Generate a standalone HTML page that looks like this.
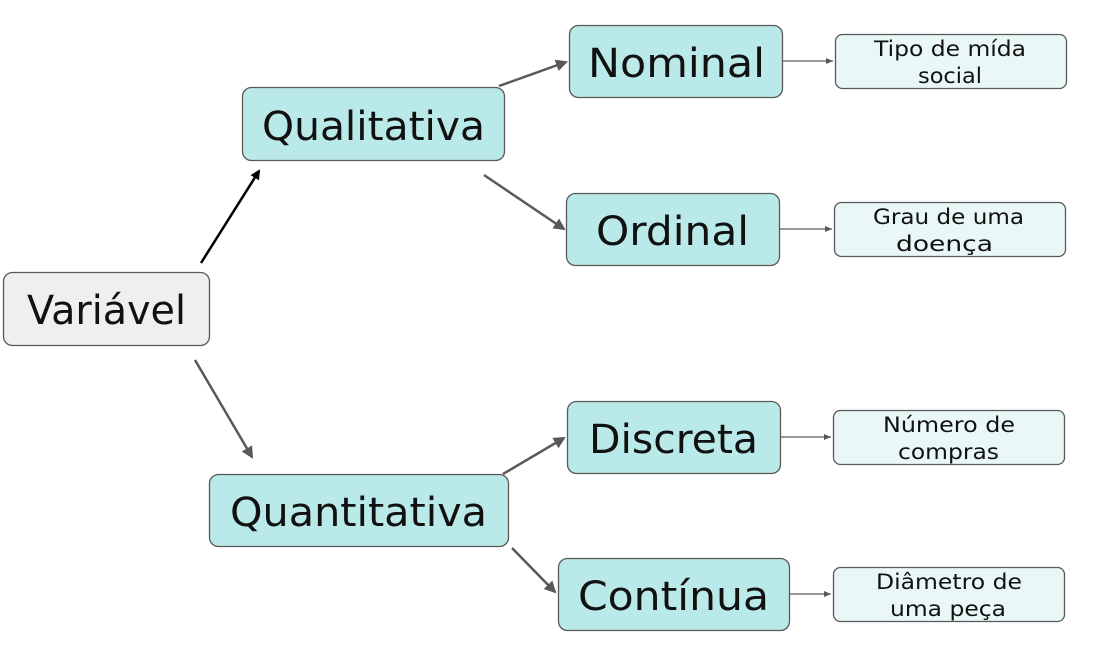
<!DOCTYPE html>
<html><head><meta charset="utf-8"><style>
html,body{margin:0;padding:0;background:#fff;width:1096px;height:660px;overflow:hidden}
text{font-family:"DejaVu Sans","Liberation Sans",sans-serif;fill:#111}
</style></head><body>
<svg width="1096" height="660" viewBox="0 0 1096 660" xmlns="http://www.w3.org/2000/svg">
<defs>
<marker id="ak" markerWidth="10" markerHeight="10" refX="8" refY="5" orient="auto" markerUnits="userSpaceOnUse" viewBox="0 0 10 10"><path d="M0,0 L10,5 L0,10 z" fill="#000"/></marker>
<marker id="ag" markerWidth="12" markerHeight="12" refX="10" refY="6" orient="auto" markerUnits="userSpaceOnUse" viewBox="0 0 12 12"><path d="M0,0 L12,6 L0,12 z" fill="#595959"/></marker>
<marker id="as" markerWidth="7" markerHeight="6" refX="7" refY="3" orient="auto" markerUnits="userSpaceOnUse" viewBox="0 0 7 6"><path d="M0,0 L7,3 L0,6 z" fill="#595959"/></marker>
</defs>
<g stroke="#595959" stroke-width="1.3">
<rect x="3.5" y="272.5" width="206" height="73" rx="9" fill="#efefef"/>
<rect x="242.5" y="87.5" width="262" height="73" rx="9" fill="#b9e9e8"/>
<rect x="209.5" y="474.5" width="299" height="72" rx="9" fill="#b9e9e8"/>
<rect x="569.5" y="25.5" width="213" height="72" rx="9" fill="#b9e9e8"/>
<rect x="566.5" y="193.5" width="213" height="72" rx="9" fill="#b9e9e8"/>
<rect x="567.5" y="401.5" width="213" height="72" rx="9" fill="#b9e9e8"/>
<rect x="558.5" y="558.5" width="231" height="72" rx="9" fill="#b9e9e8"/>
<rect x="835.5" y="34.5" width="231" height="54" rx="7" fill="#e9f7f7"/>
<rect x="834.5" y="202.5" width="231" height="54" rx="7" fill="#e9f7f7"/>
<rect x="833.5" y="410.5" width="231" height="54" rx="7" fill="#e9f7f7"/>
<rect x="833.5" y="567.5" width="231" height="54" rx="7" fill="#e9f7f7"/>
</g>
<line x1="201" y1="263" x2="259" y2="171" stroke="#000" stroke-width="2.5" marker-end="url(#ak)"/>
<g stroke="#595959" stroke-width="2.5">
<line x1="195" y1="360" x2="252" y2="457" marker-end="url(#ag)"/>
<line x1="499" y1="86" x2="566" y2="62" marker-end="url(#ag)"/>
<line x1="484" y1="175" x2="564" y2="229" marker-end="url(#ag)"/>
<line x1="503" y1="474" x2="564" y2="438" marker-end="url(#ag)"/>
<line x1="512" y1="548" x2="555" y2="592" marker-end="url(#ag)"/>
</g>
<g stroke="#595959" stroke-width="1.3">
<line x1="783" y1="61" x2="833" y2="61" marker-end="url(#as)"/>
<line x1="780" y1="229" x2="832" y2="229" marker-end="url(#as)"/>
<line x1="781" y1="437" x2="831" y2="437" marker-end="url(#as)"/>
<line x1="790" y1="594" x2="831" y2="594" marker-end="url(#as)"/>
</g>
<g font-size="40">
<text x="27" y="324" textLength="159" lengthAdjust="spacingAndGlyphs">Variável</text>
<text x="262" y="140" textLength="223" lengthAdjust="spacingAndGlyphs">Qualitativa</text>
<text x="230" y="526" textLength="257" lengthAdjust="spacingAndGlyphs">Quantitativa</text>
<text x="588" y="77" textLength="177" lengthAdjust="spacingAndGlyphs">Nominal</text>
<text x="596" y="245" textLength="153" lengthAdjust="spacingAndGlyphs">Ordinal</text>
<text x="589" y="453" textLength="169" lengthAdjust="spacingAndGlyphs">Discreta</text>
<text x="578" y="610" textLength="191" lengthAdjust="spacingAndGlyphs">Contínua</text>
</g>
<g font-size="21">
<text x="874" y="56" textLength="152" lengthAdjust="spacingAndGlyphs">Tipo de mída</text>
<text x="918" y="83" textLength="64" lengthAdjust="spacingAndGlyphs">social</text>
<text x="873" y="224" textLength="151" lengthAdjust="spacingAndGlyphs">Grau de uma</text>
<text x="896" y="251" textLength="97" lengthAdjust="spacingAndGlyphs">doença</text>
<text x="883" y="432" textLength="132" lengthAdjust="spacingAndGlyphs">Número de</text>
<text x="898" y="459" textLength="101" lengthAdjust="spacingAndGlyphs">compras</text>
<text x="876" y="589" textLength="146" lengthAdjust="spacingAndGlyphs">Diâmetro de</text>
<text x="890" y="616" textLength="116" lengthAdjust="spacingAndGlyphs">uma peça</text>
</g>
</svg>
</body></html>
